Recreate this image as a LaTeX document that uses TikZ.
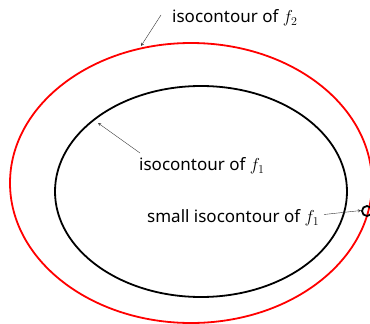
\documentclass[tikz,border=0pt]{standalone}
\usepackage{fontspec}
\setmainfont{Noto Sans}
\usepackage{tikz}
\usetikzlibrary{arrows}

\tikzset{
  label/.style={anchor=west, inner sep=0pt, font=\fontsize{17}{20}\selectfont},
  pointer/.style={->, >=stealth, thin, black!80}
}

\begin{document}
\begin{tikzpicture}[x=1pt,y=-1pt]
      \useasboundingbox (0,0) rectangle (370,324);
      \clip (0,0) rectangle (370,324);

      % contours
      \draw[red, line width=1.8pt] (191,183) ellipse (181 and 140);
      \draw[black, line width=1.8pt] (201,191.5) ellipse (146 and 105.5);
      \draw[black, line width=1.8pt] (367,211) circle (5);

      % points on the contours
      \coordinate (onf2) at (141,46);
      \coordinate (onf1) at (98,123);
      \coordinate (small) at (361,210.5);

      % labels
      \node[label] (labf2) at (172,18) {isocontour of $f_2$};
      \node[label] (labf1) at (139,166) {isocontour of $f_1$};
      \node[label] (labsmall) at (147,218) {small isocontour of $f_1$};

      \draw[pointer] (161,15) -- (onf2);
      \draw[pointer] (140,153) -- (onf1);
      \draw[pointer] (324,214.5) -- (small);
    \end{tikzpicture}
\end{document}
